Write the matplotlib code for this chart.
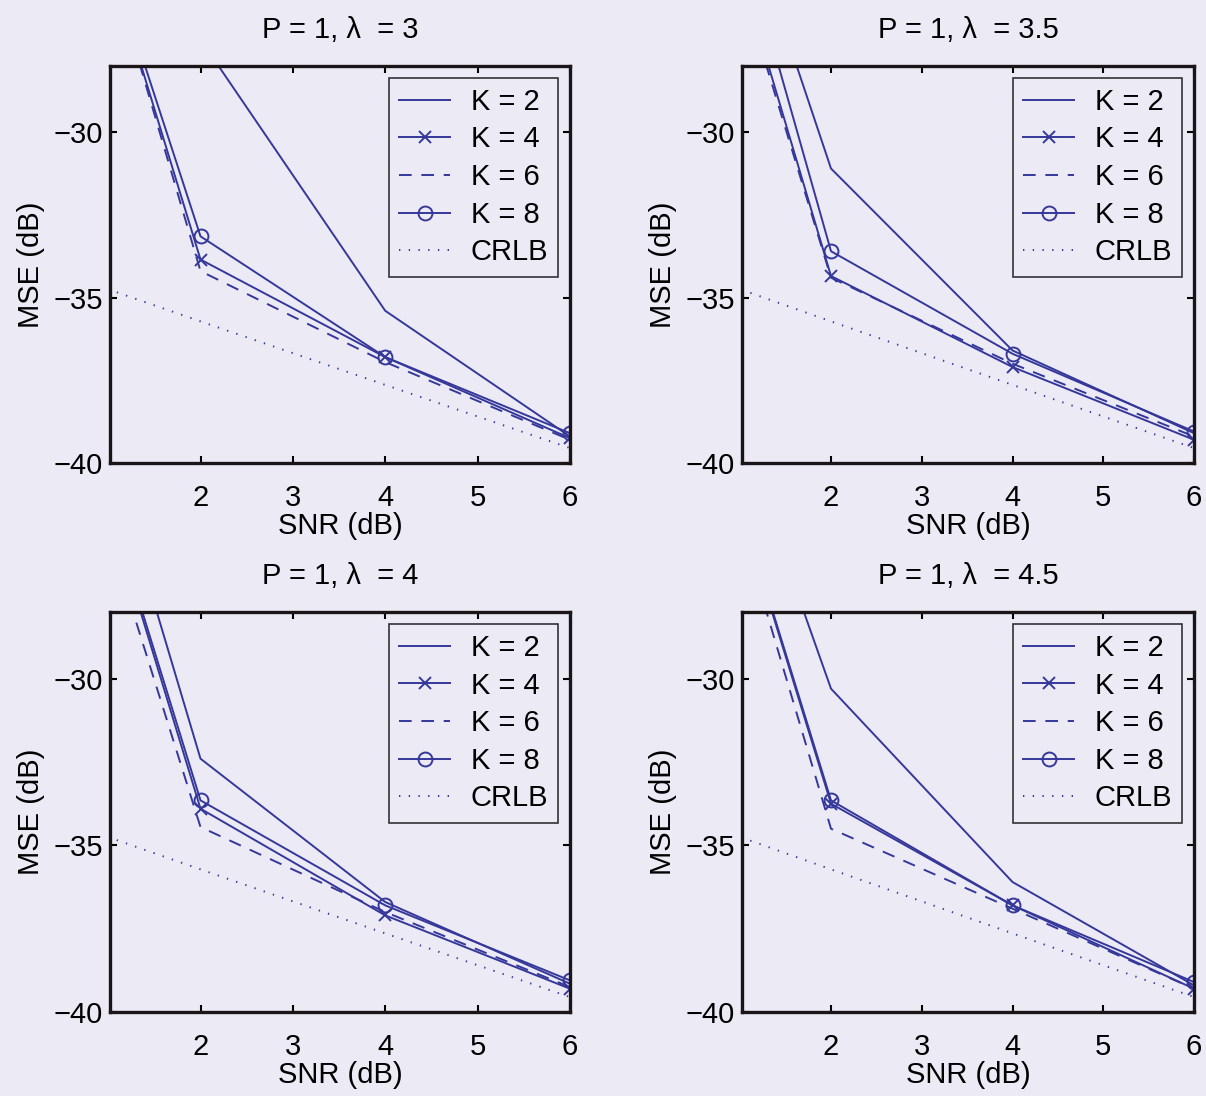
import numpy as np
import matplotlib
matplotlib.use("Agg")
import matplotlib.pyplot as plt

plt.rcParams['font.family'] = ['Liberation Sans', 'DejaVu Sans']
plt.rcParams['font.size'] = 21

# SNR points (dB); the 0 dB points lie above the plotted range
snr = [0, 2, 4, 6]

titles = ['P = 1, \u03bb  = 3', 'P = 1, \u03bb  = 3.5',
          'P = 1, \u03bb  = 4', 'P = 1, \u03bb  = 4.5']
labels = ['K = 2', 'K = 4', 'K = 6', 'K = 8', 'CRLB']

# MSE (dB)
k2 = [[-18.0, -27.2, -35.4, -39.2],
      [-14.7, -31.1, -36.6, -39.1],
      [-13.8, -32.4, -36.7, -39.15],
      [-14.9, -30.3, -36.1, -39.2]]
k4 = [[-15.6, -33.85, -36.8, -39.25],
      [-15.9, -34.35, -37.1, -39.3],
      [-15.7, -33.9, -37.1, -39.3],
      [-16.05, -33.75, -36.8, -39.3]]
k6 = [[-15.2, -34.2, -36.95, -39.3],
      [-16.4, -34.4, -37.0, -39.2],
      [-16.8, -34.45, -37.0, -39.25],
      [-16.2, -34.5, -36.9, -39.3]]
k8 = [[-16.0, -33.15, -36.8, -39.1],
      [-14.2, -33.6, -36.7, -39.05],
      [-15.7, -33.65, -36.8, -39.05],
      [-16.0, -33.65, -36.8, -39.1]]
crlb = [-33.78, -35.72, -37.64, -39.55]

blue = '#35389a'
bg = '#ecebf5'

fig = plt.figure(figsize=(12.06, 10.96), dpi=100, facecolor=bg)
# axes boxes in figure fractions [left, bottom, width, height]
boxes = [[0.0912, 0.5776, 0.3814, 0.3622],
         [0.6153, 0.5776, 0.3748, 0.3622],
         [0.0912, 0.0766, 0.3814, 0.3650],
         [0.6153, 0.0766, 0.3748, 0.3650]]

for i in range(4):
    ax = fig.add_axes(boxes[i], facecolor=bg)
    ax.plot(snr, k2[i], '-', color=blue, lw=1.4, label=labels[0])
    ax.plot(snr, k4[i], '-x', color=blue, lw=1.4, ms=9, mew=1.4, label=labels[1])
    ax.plot(snr, k6[i], '--', color=blue, lw=1.4, dashes=(6.5, 5), label=labels[2])
    ax.plot(snr, k8[i], '-o', color=blue, lw=1.4, ms=10, mew=1.4, mfc='none', label=labels[3])
    ax.plot(snr, crlb, color=blue, lw=1.4, dashes=(0.7, 4.3), label=labels[4])

    ax.set_xlim(1.02, 6)
    ax.set_ylim(-40, -28)
    ax.set_xticks([2, 3, 4, 5, 6])
    ax.set_yticks([-40, -35, -30])
    ax.tick_params(direction='in', length=5, width=1.5, top=True, right=True,
                   labelsize=21)
    ax.tick_params(axis='x', pad=15)
    ax.tick_params(axis='y', pad=5)
    for s in ax.spines.values():
        s.set_linewidth(2.4)
        s.set_color('#1c1416')
    ax.set_xlabel('SNR (dB)', fontsize=21, labelpad=0)
    ax.set_ylabel('MSE (dB)', fontsize=21, labelpad=6)
    ax.set_title(titles[i], fontsize=21, pad=20)

    leg = ax.legend(loc='upper right', fontsize=21, handlelength=1.75,
                    labelspacing=0.33, borderaxespad=0.4, fancybox=False,
                    framealpha=1, facecolor=bg, edgecolor='#333333',
                    handletextpad=0.7, borderpad=0.35)
    leg.get_frame().set_linewidth(1.2)

fig.savefig('out.png', dpi=100, facecolor=bg)
